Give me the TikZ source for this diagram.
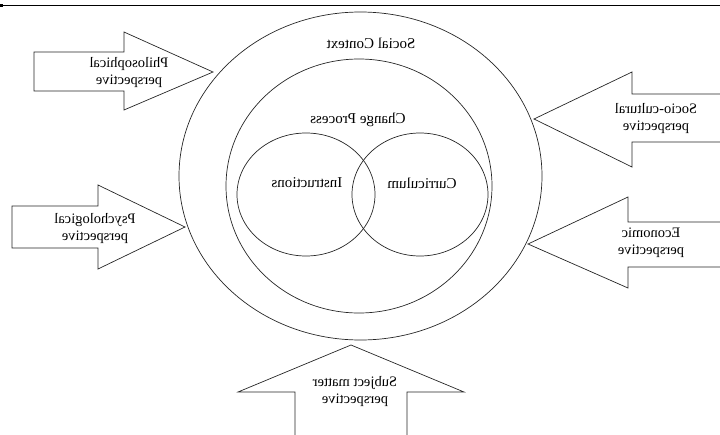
\documentclass[tikz,border=0pt]{standalone}
\usepackage{fontspec}
\setmainfont{Liberation Serif}
\usetikzlibrary{shapes.geometric}
\begin{document}
\begin{tikzpicture}[x=1pt,y=-1pt,line width=0.7pt]
  \tikzstyle{ring}=[draw=black!85, ellipse, inner sep=0pt]
  \tikzstyle{mirror}=[xscale=-1, transform shape, align=center,
    font=\fontsize{15}{17}\selectfont]
  \tikzstyle{side}=[mirror, font=\fontsize{14.5}{17}\selectfont]
  \tikzstyle{block}=[draw=black!85, line join=miter]
  \useasboundingbox (0,0) rectangle (720,434);
  \clip (0,0) rectangle (720,434);
  \draw (0,5) -- (720,5);
  \fill (0,4) rectangle (3,7);
  % rings
  \node[ring, minimum width=363pt, minimum height=328pt] (social) at (360.5,176) {};
  \node[ring, minimum width=266pt, minimum height=254pt] (change) at (359,186) {};
  \node[ring, minimum width=138pt, minimum height=123pt] (instr) at (306,194.5) {};
  \node[ring, minimum width=136pt, minimum height=123pt] (curric) at (420,194.5) {};
  \node[mirror] (socialtext) at (371,43) {Social Context};
  \node[mirror] (changetext) at (358,120) {Change Process};
  \node[mirror] (instrtext) at (307,183) {Instructions};
  \node[mirror] (currictext) at (422,183) {Curriculum};
  % block arrows
  \draw[block] (34,52) -- (124,52) -- (124,32) -- (213,72) -- (124,110)
    -- (124,91) -- (34,91) -- cycle;
  \draw[block] (12,206) -- (98,206) -- (98,185) -- (185,227) -- (98,269)
    -- (98,248) -- (12,248) -- cycle;
  \draw[block] (724,94) -- (632,94) -- (632,72) -- (534,119) -- (632,167)
    -- (632,142) -- (724,142);
  \draw[block] (724,222) -- (628,222) -- (628,197) -- (528,244) -- (628,288)
    -- (628,267) -- (724,267);
  \draw[block] (295,438) -- (295,392) -- (238,392) -- (351,345) -- (464,392)
    -- (407,392) -- (407,438);
  \node[side] (philo) at (129,73) {Philosophical\\perspective};
  \node[side] (psycho) at (95,228.5) {Psychological\\perspective};
  \node[side] (socio) at (656,118.5) {Socio-cultural\\perspective};
  \node[side] (econ) at (651,242.5) {Economic\\perspective};
  \node[side] (subject) at (355,392) {Subject matter\\perspective};
\end{tikzpicture}
\end{document}
